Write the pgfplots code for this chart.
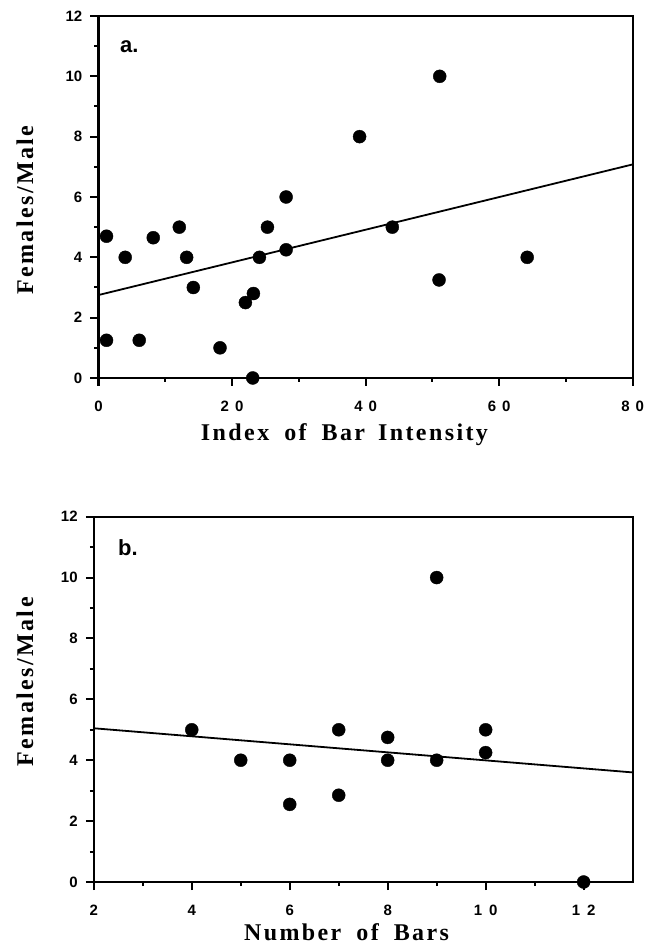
\documentclass[border=0pt]{standalone}
\usepackage{pgfplots}
\pgfplotsset{compat=1.18}
\usepackage{fontspec}
\setmainfont{Liberation Serif}
\newfontfamily\labelfont[LetterSpace=10]{Liberation Serif}
\newfontfamily\tickfont{Liberation Sans}
\pgfplotsset{
  myaxis/.style={
    scale only axis,
    anchor=south west,
    clip=false,
    axis line style={line width=2.2bp},
    tick style={line width=2bp, black},
    tick align=outside,
    major tick length=8bp,
    minor tick length=4bp,
    xtick pos=lower, ytick pos=left,
    minor x tick num=1, minor y tick num=1,
    ymin=0, ymax=12, ytick={0,2,...,12},
    /pgf/number format/assume math mode=true,
    yticklabel style={font=\tickfont\bfseries\fontsize{15bp}{17bp}\selectfont, anchor=east, inner sep=0pt, xshift=-8bp},
    xticklabel style={font=\tickfont\bfseries\fontsize{15bp}{17bp}\selectfont, anchor=center, inner sep=0pt, yshift=-20bp},
    label style={font=\labelfont\bfseries\fontsize{24bp}{27bp}\selectfont, inner sep=0pt},
  }
}
\begin{document}
\begin{tikzpicture}
\path[use as bounding box] (0bp,0bp) rectangle (656bp,947bp);
% Panel a
\begin{axis}[myaxis,
  at={(98.5bp,569bp)}, width=534.2bp, height=362bp,
  xmin=0, xmax=80, xtick={0,20,40,60,80},
  xticklabels={0,2\hspace{6bp}0,4\hspace{6bp}0,6\hspace{6bp}0,8\hspace{6bp}0},
  xlabel={Index\hspace{15bp}of\hspace{15bp}Bar\hspace{13bp}Intensity},
  xlabel style={at={(axis description cs:0.4605,0)}, anchor=base, yshift=-62.7bp},
  ylabel={Females/Male},
  ylabel style={at={(axis description cs:-0.1226,0.464)}, anchor=base},
]
\addplot[only marks, mark=*, mark size=6.5bp, black] coordinates {
(1.2,4.7) (4,4) (1.2,1.25) (6.1,1.25) (8.2,4.65) (12.1,5) (13.2,4) (14.2,3)
(18.2,1) (22,2.5) (23.2,2.8) (23.1,0) (24.1,4) (25.3,5) (28.1,6) (28.1,4.25)
(39.1,8) (51.1,10) (44,5) (51,3.25) (64.2,4)
};
\addplot[no marks, black, line width=1.8bp] coordinates {(0,2.75) (80,7.08)};
\node[anchor=base west, inner sep=0pt, font=\tickfont\bfseries\fontsize{22bp}{24bp}\selectfont] at (axis description cs:0.0402,0.898) {a.};
\end{axis}
% Panel b
\begin{axis}[myaxis,
  at={(93.8bp,65bp)}, width=538.8bp, height=365.3bp,
  xmin=2, xmax=13, xtick={2,4,6,8,10,12},
  xticklabels={2,4,6,8,1\hspace{7bp}0,1\hspace{7bp}2},
  xlabel={Number\hspace{15bp}of\hspace{15bp}Bars},
  xlabel style={at={(axis description cs:0.469,0)}, anchor=base, yshift=-58.5bp},
  ylabel={Females/Male},
  ylabel style={at={(axis description cs:-0.1128,0.548)}, anchor=base},
]
\addplot[only marks, mark=*, mark size=6.5bp, black] coordinates {
(4,5) (5,4) (6,4) (6,2.55) (7,5) (7,2.85) (8,4.75) (8,4) (9,10) (9,4)
(10,5) (10,4.25) (12,0)
};
\addplot[no marks, black, line width=1.8bp] coordinates {(2,5.05) (13,3.6)};
\node[anchor=base west, inner sep=0pt, font=\tickfont\bfseries\fontsize{22bp}{24bp}\selectfont] at (axis description cs:0.045,0.895) {b.};
\end{axis}
\end{tikzpicture}
\end{document}
